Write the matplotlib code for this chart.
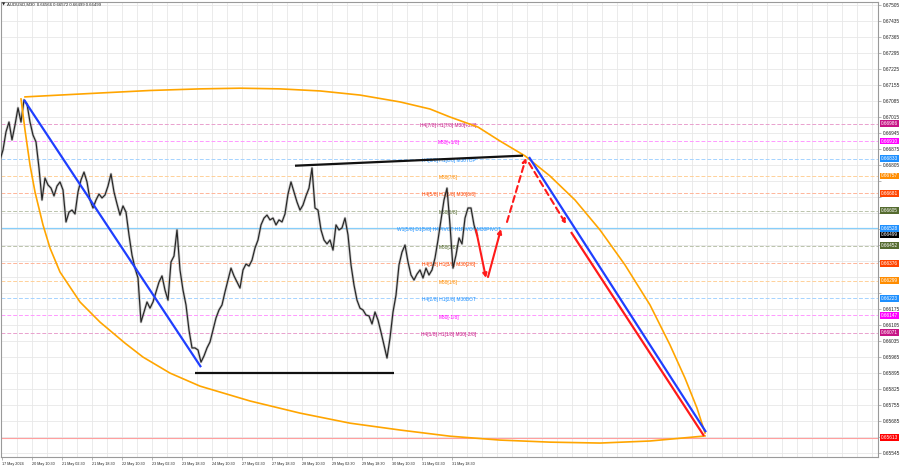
import numpy as np
import matplotlib.pyplot as plt
from matplotlib.colors import to_rgb

plt.rcParams['font.family'] = ['Liberation Sans', 'DejaVu Sans']

header = "AUDUSD,M30  0.66566 0.66572 0.66499 0.66499"

# close prices, one every 3 chart slots
closes = [
    0.66827, 0.66871, 0.66950, 0.66993, 0.66915, 0.66980, 0.67055, 0.66993, 0.67090, 0.67072,
    0.66993, 0.66936, 0.66906, 0.66792, 0.66652, 0.66748, 0.66718, 0.66704, 0.66670, 0.66713,
    0.66731, 0.66696, 0.66556, 0.66599, 0.66608, 0.66591, 0.66687, 0.66740, 0.66774, 0.66731,
    0.66652, 0.66617, 0.66652, 0.66678, 0.66661, 0.66674, 0.66713, 0.66766, 0.66687, 0.66635,
    0.66586, 0.66626, 0.66599, 0.66499, 0.66411, 0.66354, 0.66311, 0.66118, 0.66162, 0.66206,
    0.66179, 0.66206, 0.66250, 0.66293, 0.66320, 0.66258, 0.66214, 0.66381, 0.66407, 0.66521,
    0.66346, 0.66258, 0.66193, 0.66083, 0.66005, 0.66005, 0.65996, 0.65943, 0.65970, 0.66005,
    0.66031, 0.66083, 0.66136, 0.66171, 0.66193, 0.66250, 0.66302, 0.66354, 0.66320, 0.66293,
    0.66267, 0.66346, 0.66372, 0.66363, 0.66389, 0.66442, 0.66477, 0.66543, 0.66573, 0.66586,
    0.66565, 0.66573, 0.66543, 0.66565, 0.66556, 0.66591, 0.66678, 0.66731, 0.66687, 0.66643,
    0.66608, 0.66630, 0.66670, 0.66704, 0.66792, 0.66617, 0.66608, 0.66521, 0.66477, 0.66460,
    0.66477, 0.66433, 0.66543, 0.66521, 0.66530, 0.66573, 0.66499, 0.66368, 0.66280, 0.66214,
    0.66179, 0.66171, 0.66149, 0.66145, 0.66110, 0.66162, 0.66127, 0.66074, 0.66018, 0.65961,
    0.66048, 0.66162, 0.66236, 0.66368, 0.66424, 0.66455, 0.66381, 0.66324, 0.66302, 0.66328,
    0.66346, 0.66311, 0.66354, 0.66324, 0.66346, 0.66398, 0.66477, 0.66565, 0.66652, 0.66704,
    0.66543, 0.66354, 0.66411, 0.66486, 0.66460, 0.66573, 0.66617, 0.66617, 0.66543, 0.66499,
]
bid = 0.66499

price_ticks = [0.67505, 0.67435, 0.67365, 0.67295, 0.67225, 0.67155, 0.67085, 0.67015,
               0.66945, 0.66875, 0.66805, 0.66735, 0.66665, 0.66595, 0.66525, 0.66455,
               0.66385, 0.66315, 0.66245, 0.66175, 0.66105, 0.66035, 0.65965, 0.65895,
               0.65825, 0.65755, 0.65685, 0.65615, 0.65545]

time_labels = ["17 May 2024", "20 May 10:30", "21 May 02:30", "21 May 18:30", "22 May 10:30",
               "23 May 02:30", "23 May 18:30", "24 May 10:30", "27 May 02:30", "27 May 18:30",
               "28 May 10:30", "29 May 02:30", "29 May 18:30", "30 May 10:30", "31 May 02:30",
               "31 May 18:30"]

# Murrey math levels
level_prices = [0.66986, 0.66910, 0.66833, 0.66757, 0.66681, 0.66605, 0.66528,
                0.66452, 0.66376, 0.66299, 0.66223, 0.66147, 0.66071]
level_names = ["H4[7/8] H1[7/8] M30[+2/8]", "M30[+1/8]", "H4[6/8] H1[6/8] M30TOP",
               "M30[7/8]", "H4[5/8] H1[5/8] M30[6/8]", "M30[5/8]",
               "W1[5/8] D1[5/8] H4PIVOT H1PIVOT M30PIVOT", "M30[3/8]",
               "H4[3/8] H1[3/8] M30[2/8]", "M30[1/8]", "H4[2/8] H1[2/8] M30BOT",
               "M30[-1/8]", "H4[1/8] H1[1/8] M30[-2/8]"]
level_colors = ['#c71585', '#ff00ff', '#1e90ff', '#ff8c00', '#ff4500', '#556b2f', '#1e90ff',
                '#556b2f', '#ff4500', '#ff8c00', '#1e90ff', '#ff00ff', '#c71585']
target_price = 0.65613

# hand drawn objects: (slot, price)
arc_top_x = [25, 60, 100, 150, 200, 240, 280, 320, 360, 400, 430, 450, 478, 500, 525,
             550, 575, 600, 625, 650, 670, 685, 697, 705]
arc_top_p = [0.67103, 0.67111, 0.67120, 0.67131, 0.67138, 0.67141, 0.67138, 0.67129,
             0.67111, 0.67081, 0.67050, 0.67015, 0.66971, 0.66910, 0.66845, 0.66757,
             0.66652, 0.66521, 0.66368, 0.66193, 0.66018, 0.65873, 0.65742, 0.65633]
arc_low_x = [21, 25, 30, 35, 43, 50, 60, 80, 100, 125, 143, 170, 200, 250, 300, 350,
             400, 450, 500, 550, 600, 650, 705]
arc_low_p = [0.67094, 0.66958, 0.66805, 0.66687, 0.66543, 0.66442, 0.66337, 0.66206,
             0.66118, 0.66026, 0.65965, 0.65895, 0.65838, 0.65773, 0.65720, 0.65676,
             0.65646, 0.65619, 0.65602, 0.65593, 0.65589, 0.65598, 0.65620]

blue_trend = [(24, 0.67090), (201, 0.65921)]
blue_proj = [(529, 0.66840), (706, 0.65637)]
res_line = [(295, 0.66802), (523, 0.66846)]
sup_line = [(195, 0.65897), (394, 0.65897)]
red_proj = [(571, 0.66512), (704, 0.65620)]
arrows_solid = [((476, 0.66521), (486, 0.66311)), ((488, 0.66315), (501, 0.66525))]
arrows_dash = [((507, 0.66556), (526, 0.66836)), ((529, 0.66814), (566, 0.66547))]


def tint(c, k):
    r = np.array(to_rgb(c))
    return tuple(r * (1 - k) + k)


fig = plt.figure(figsize=(9, 4.68), dpi=100)
ax = fig.add_axes([1 / 900, 11 / 468, 877 / 900, 455 / 468])
ax.set_xlim(1, 878)
ax.set_ylim(0.65528, 0.67518)

# grid
for p in price_ticks:
    ax.axhline(p, color='#e8e8e8', lw=0.6, zorder=0)
for gx in np.arange(16.7, 878, 15):
    ax.axvline(gx, color='#e8e8e8', lw=0.6, zorder=0)

# levels
for p, name, c in zip(level_prices, level_names, level_colors):
    if 'PIVOT' in name:
        ax.axhline(p, color='#87cefa', lw=0.9, zorder=1)
    else:
        ax.axhline(p, color=tint(c, 0.6), lw=0.7, dashes=(4, 2), zorder=1)
    ax.text(448.5, p - 0.00007, name, color=c, fontsize=3.5, ha='center', va='center', zorder=2)
ax.axhline(target_price, color='#ff9f9f', lw=0.8, zorder=1)

# price
xs = np.arange(len(closes)) * 3
ax.plot(xs, closes, color='#8a8a8a', lw=1.9, alpha=0.45, zorder=3)
ax.plot(xs, closes, color='#262626', lw=0.85, zorder=4)

# drawings
ax.plot(arc_top_x, arc_top_p, color='#ffa500', lw=1.2, zorder=5, solid_joinstyle='round')
ax.plot(arc_low_x, arc_low_p, color='#ffa500', lw=1.2, zorder=5, solid_joinstyle='round')
for seg, c in [(blue_trend, '#1f3fff'), (blue_proj, '#1f3fff'), (res_line, '#111111'),
               (sup_line, '#111111'), (red_proj, '#ff1a1a')]:
    (x0, p0), (x1, p1) = seg
    ax.plot([x0, x1], [p0, p1], color=c, lw=1.6, zorder=6, solid_capstyle='butt')
for (a, b) in arrows_solid:
    ax.annotate('', xy=b, xytext=a, zorder=7,
                arrowprops=dict(arrowstyle='-|>', color='#ff1a1a', lw=1.5, mutation_scale=6,
                                shrinkA=0, shrinkB=0))
for (a, b) in arrows_dash:
    ax.annotate('', xy=b, xytext=a, zorder=7,
                arrowprops=dict(arrowstyle='-|>', color='#ff1a1a', lw=1.5, mutation_scale=6,
                                linestyle=(0, (3, 2)), shrinkA=0, shrinkB=0))

# axes look
for s in ax.spines.values():
    s.set_color('#9a9a9a')
    s.set_linewidth(0.8)

tags = list(zip(level_prices, level_colors)) + [(bid, '#000000'), (target_price, '#ff0000')]
tag_prices = [t[0] for t in tags]
# hide scale numbers sitting under a price tag
shown = [p for p in price_ticks if min(abs(p - q) for q in tag_prices) > 0.00026]
ax.yaxis.tick_right()
ax.set_yticks(price_ticks)
ax.set_yticklabels(['%.5f' % p if p in shown else '' for p in price_ticks])
ax.tick_params(axis='y', labelsize=3.4, length=2, width=0.5, pad=1.2, colors='#9a9a9a',
               labelcolor='#222222')
tick_x = [1.7 + 30 * k for k in range(len(time_labels))]
ax.set_xticks(tick_x)
ax.set_xticklabels(time_labels)
ax.tick_params(axis='x', labelsize=2.7, length=2, width=0.5, pad=1.5, colors='#9a9a9a',
               labelcolor='#222222')
for lbl in ax.get_xticklabels():
    lbl.set_ha('left')

# right-axis price tags
ytr = ax.get_yaxis_transform()
for p, c in tags:
    ax.text(1.003, p, '%.5f' % p, transform=ytr, fontsize=3.4, color='white', ha='left',
            va='center', clip_on=False, zorder=10,
            bbox=dict(boxstyle='square,pad=0.2', fc=c, ec=c, lw=0))

fig.text(2 / 900, 1 - 5 / 468, '\u25bc', fontsize=3, color='#222222', va='center',
         family=['DejaVu Sans'])
fig.text(7 / 900, 1 - 5 / 468, header, fontsize=3.1, color='#222222', va='center')

fig.savefig('out.png', dpi=100)
